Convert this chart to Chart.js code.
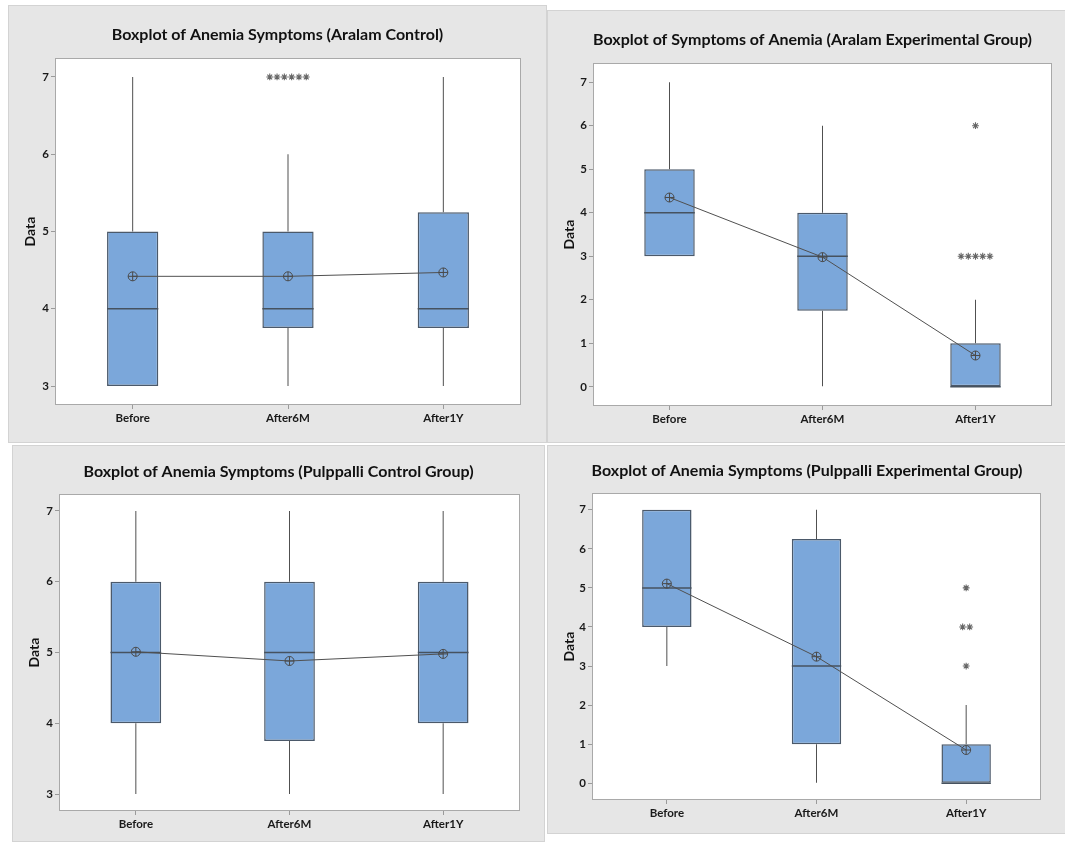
<!DOCTYPE html>
<html>
<head>
<meta charset="utf-8">
<title>Boxplots of Anemia Symptoms</title>
<script src="https://cdn.jsdelivr.net/npm/chart.js@4.4.1/dist/chart.umd.min.js"></script>
<style>
  html, body { margin: 0; padding: 0; background: #ffffff; }
  body { width: 1065px; height: 842px; position: relative; overflow: hidden; }
  .panel { position: absolute; background: #e6e6e6; box-shadow: inset 0 0 0 1px #d3d3d3; }
  .panel canvas { position: absolute; left: 0; top: 0; }
</style>
</head>
<body>
<div class="panel" style="left:8px;top:5px;width:539px;height:438px"><canvas id="aralamControl" width="539" height="438"></canvas></div>
<div class="panel" style="left:547px;top:10px;width:531px;height:433px"><canvas id="aralamExperimental" width="531" height="433"></canvas></div>
<div class="panel" style="left:12px;top:445px;width:533px;height:397px"><canvas id="pulppalliControl" width="533" height="397"></canvas></div>
<div class="panel" style="left:547px;top:445px;width:520px;height:389px"><canvas id="pulppalliExperimental" width="520" height="389"></canvas></div>

<script>
// ---- data ----
const categories = ['Before', 'After6M', 'After1Y'];

// Aralam control
const aralamCtrlMin      = [3, 3, 3];
const aralamCtrlQ1       = [3, 3.75, 3.75];
const aralamCtrlMedian   = [4, 4, 4];
const aralamCtrlQ3       = [5, 5, 5.25];
const aralamCtrlMax      = [7, 6, 7];
const aralamCtrlMean     = [4.42, 4.42, 4.47];
const aralamCtrlOutliers = [[], [7, 7, 7, 7, 7, 7], []];
const aralamCtrlTicks    = [3, 4, 5, 6, 7];

// Aralam experimental group
const aralamExpMin      = [3, 0, 0];
const aralamExpQ1       = [3, 1.75, 0];
const aralamExpMedian   = [4, 3, 0];
const aralamExpQ3       = [5, 4, 1];
const aralamExpMax      = [7, 6, 2];
const aralamExpMean     = [4.35, 2.98, 0.72];
const aralamExpOutliers = [[], [], [3, 3, 3, 3, 3, 6]];
const aralamExpTicks    = [0, 1, 2, 3, 4, 5, 6, 7];

// Pulppalli control group
const pulppalliCtrlMin      = [3, 3, 3];
const pulppalliCtrlQ1       = [4, 3.75, 4];
const pulppalliCtrlMedian   = [5, 5, 5];
const pulppalliCtrlQ3       = [6, 6, 6];
const pulppalliCtrlMax      = [7, 7, 7];
const pulppalliCtrlMean     = [5.01, 4.88, 4.98];
const pulppalliCtrlOutliers = [[], [], []];
const pulppalliCtrlTicks    = [3, 4, 5, 6, 7];

// Pulppalli experimental group
const pulppalliExpMin      = [3, 0, 0];
const pulppalliExpQ1       = [4, 1, 0];
const pulppalliExpMedian   = [5, 3, 0];
const pulppalliExpQ3       = [7, 6.25, 1];
const pulppalliExpMax      = [7, 7, 2];
const pulppalliExpMean     = [5.11, 3.24, 0.85];
const pulppalliExpOutliers = [[], [], [3, 4, 4, 5]];
const pulppalliExpTicks    = [0, 1, 2, 3, 4, 5, 6, 7];

// ---- styling ----
const FONT = 'Lato, "Liberation Sans", sans-serif';
const BOX_FILL = '#7ba7da';
const BOX_EDGE = '#4b596a';
const LINE_DARK = '#505050';
const BOX_FRACTION = 0.33;     // box width as share of the category slot
const DUPLICATE_STEP = 0.047;  // sideways step between repeated outliers (x units)

// repeated outliers sit side by side, centred on their category
function outlierPoints(outliers) {
  const pts = [];
  outliers.forEach((vals, i) => {
    const counts = new Map();
    vals.forEach(v => counts.set(v, (counts.get(v) || 0) + 1));
    counts.forEach((n, v) => {
      for (let k = 0; k < n; k++) {
        pts.push({ x: i + (k - (n - 1) / 2) * DUPLICATE_STEP, y: v });
      }
    });
  });
  return pts;
}

function halfBoxWidth(chart) {
  const s = chart.scales.x;
  return Math.abs(s.getPixelForValue(1) - s.getPixelForValue(0)) * BOX_FRACTION / 2;
}

// white plotting region with a thin grey frame
const plotFrame = {
  id: 'plotFrame',
  beforeDatasetsDraw(chart) {
    const { ctx, chartArea: a } = chart;
    ctx.save();
    ctx.fillStyle = '#ffffff';
    ctx.fillRect(a.left, a.top, a.right - a.left, a.bottom - a.top);
    ctx.strokeStyle = '#a9a9a9';
    ctx.lineWidth = 1;
    ctx.strokeRect(Math.round(a.left) + 0.5, Math.round(a.top) + 0.5,
                   Math.round(a.right - a.left) - 1, Math.round(a.bottom - a.top) - 1);
    ctx.restore();
  }
};

function makeBoxplot(id, title, s, box) {
  const canvas = document.getElementById(id);
  const W = canvas.width, H = canvas.height;
  const idx = categories.map((_, i) => i);
  const at = arr => idx.map(i => ({ x: i, y: arr[i] }));
  const span = (lo, hi) => idx.map(i => ({ x: i, y: [lo[i], hi[i]] }));
  const titleLH = 16 * 1.2;

  return new Chart(canvas, {
    type: 'bar',
    data: {
      datasets: [
        { type: 'scatter', label: 'Outliers', order: 0, data: outlierPoints(s.outliers),
          pointStyle: 'star', radius: 3.4, borderColor: '#666666', backgroundColor: '#666666', borderWidth: 1.1 },
        { type: 'line', label: 'Mean marker', order: 1, data: at(s.mean), showLine: false,
          pointStyle: 'cross', radius: 4.5, borderColor: '#4a4a4a', borderWidth: 1 },
        { type: 'line', label: 'Mean', order: 2, data: at(s.mean), borderColor: LINE_DARK, borderWidth: 1,
          pointStyle: 'circle', radius: 4.5, pointBorderColor: '#4a4a4a', pointBorderWidth: 1,
          pointBackgroundColor: 'rgba(0,0,0,0)', tension: 0, fill: false },
        { type: 'scatter', label: 'Median', order: 3, data: at(s.median),
          pointStyle: 'line', radius: ctx => halfBoxWidth(ctx.chart), borderColor: '#46525f', borderWidth: 1.5 },
        { type: 'bar', label: 'IQR', order: 4, data: span(s.q1, s.q3),
          backgroundColor: BOX_FILL, borderColor: BOX_EDGE, borderWidth: 1.5, borderSkipped: false,
          grouped: false, categoryPercentage: 1, barPercentage: BOX_FRACTION },
        { type: 'bar', label: 'Lower whisker', order: 5, data: span(s.min, s.q1),
          backgroundColor: LINE_DARK, borderWidth: 0, grouped: false,
          categoryPercentage: 1, barPercentage: 0.05, maxBarThickness: 1 },
        { type: 'bar', label: 'Upper whisker', order: 5, data: span(s.q3, s.max),
          backgroundColor: LINE_DARK, borderWidth: 0, grouped: false,
          categoryPercentage: 1, barPercentage: 0.05, maxBarThickness: 1 }
      ]
    },
    options: {
      responsive: false,
      animation: false,
      events: [],
      layout: { padding: 0 },
      plugins: {
        legend: { display: false },
        tooltip: { enabled: false },
        title: {
          display: true, text: title, color: '#111111',
          font: { family: FONT, size: 16, weight: 'bold', lineHeight: 1.2 },
          padding: { top: box.titleY - titleLH / 2, bottom: box.top - (box.titleY - titleLH / 2) - titleLH }
        }
      },
      scales: {
        x: {
          type: 'linear', position: 'bottom', min: -0.5, max: 2.5, offset: false,
          afterBuildTicks: sc => { sc.ticks = idx.map(i => ({ value: i })); },
          afterFit: sc => { sc.height = H - box.bottom; },
          ticks: { callback: v => categories[v], autoSkip: false, maxRotation: 0, padding: 2,
                   color: '#1a1a1a', font: { family: FONT, size: 11.5, weight: 'bold' } },
          grid: { offset: false, drawOnChartArea: false, tickLength: 4, tickColor: '#9a9a9a' },
          border: { display: false }
        },
        y: {
          type: 'linear', position: 'left', min: s.yMin, max: s.yMax,
          afterBuildTicks: sc => { sc.ticks = s.ticks.map(v => ({ value: v })); },
          afterFit: sc => { sc.width = box.left; },
          ticks: { padding: 2, color: '#1a1a1a', font: { family: FONT, size: 11.5, weight: 'bold' } },
          grid: { offset: false, drawOnChartArea: false, tickLength: 4, tickColor: '#9a9a9a' },
          border: { display: false },
          title: { display: true, text: 'Data', color: '#111111',
                   font: { family: FONT, size: 14, weight: 'bold', lineHeight: 1.2 },
                   padding: { top: 22.5 - 8.4, bottom: 0 } }
        },
        margin: {
          type: 'linear', position: 'right', display: true,
          afterFit: sc => { sc.width = W - box.right; },
          ticks: { display: false }, grid: { display: false }, border: { display: false }
        }
      }
    },
    plugins: [plotFrame]
  });
}

makeBoxplot('aralamControl', 'Boxplot of Anemia Symptoms (Aralam Control)', {
  min: aralamCtrlMin, q1: aralamCtrlQ1, median: aralamCtrlMedian, q3: aralamCtrlQ3,
  max: aralamCtrlMax, mean: aralamCtrlMean, outliers: aralamCtrlOutliers,
  ticks: aralamCtrlTicks, yMin: 2.755, yMax: 7.245
}, { left: 47, top: 53, right: 513, bottom: 400, titleY: 30 });

makeBoxplot('aralamExperimental', 'Boxplot of Symptoms of Anemia (Aralam Experimental Group)', {
  min: aralamExpMin, q1: aralamExpQ1, median: aralamExpMedian, q3: aralamExpQ3,
  max: aralamExpMax, mean: aralamExpMean, outliers: aralamExpOutliers,
  ticks: aralamExpTicks, yMin: -0.44, yMax: 7.44
}, { left: 46, top: 53, right: 505, bottom: 396, titleY: 30 });

makeBoxplot('pulppalliControl', 'Boxplot of Anemia Symptoms (Pulppalli Control Group)', {
  min: pulppalliCtrlMin, q1: pulppalliCtrlQ1, median: pulppalliCtrlMedian, q3: pulppalliCtrlQ3,
  max: pulppalliCtrlMax, mean: pulppalliCtrlMean, outliers: pulppalliCtrlOutliers,
  ticks: pulppalliCtrlTicks, yMin: 2.76, yMax: 7.24
}, { left: 47, top: 49, right: 508, bottom: 366, titleY: 27 });

makeBoxplot('pulppalliExperimental', 'Boxplot of Anemia Symptoms (Pulppalli Experimental Group)', {
  min: pulppalliExpMin, q1: pulppalliExpQ1, median: pulppalliExpMedian, q3: pulppalliExpQ3,
  max: pulppalliExpMax, mean: pulppalliExpMean, outliers: pulppalliExpOutliers,
  ticks: pulppalliExpTicks, yMin: -0.43, yMax: 7.43
}, { left: 45, top: 48, right: 494, bottom: 355, titleY: 26 });
</script>
</body>
</html>
